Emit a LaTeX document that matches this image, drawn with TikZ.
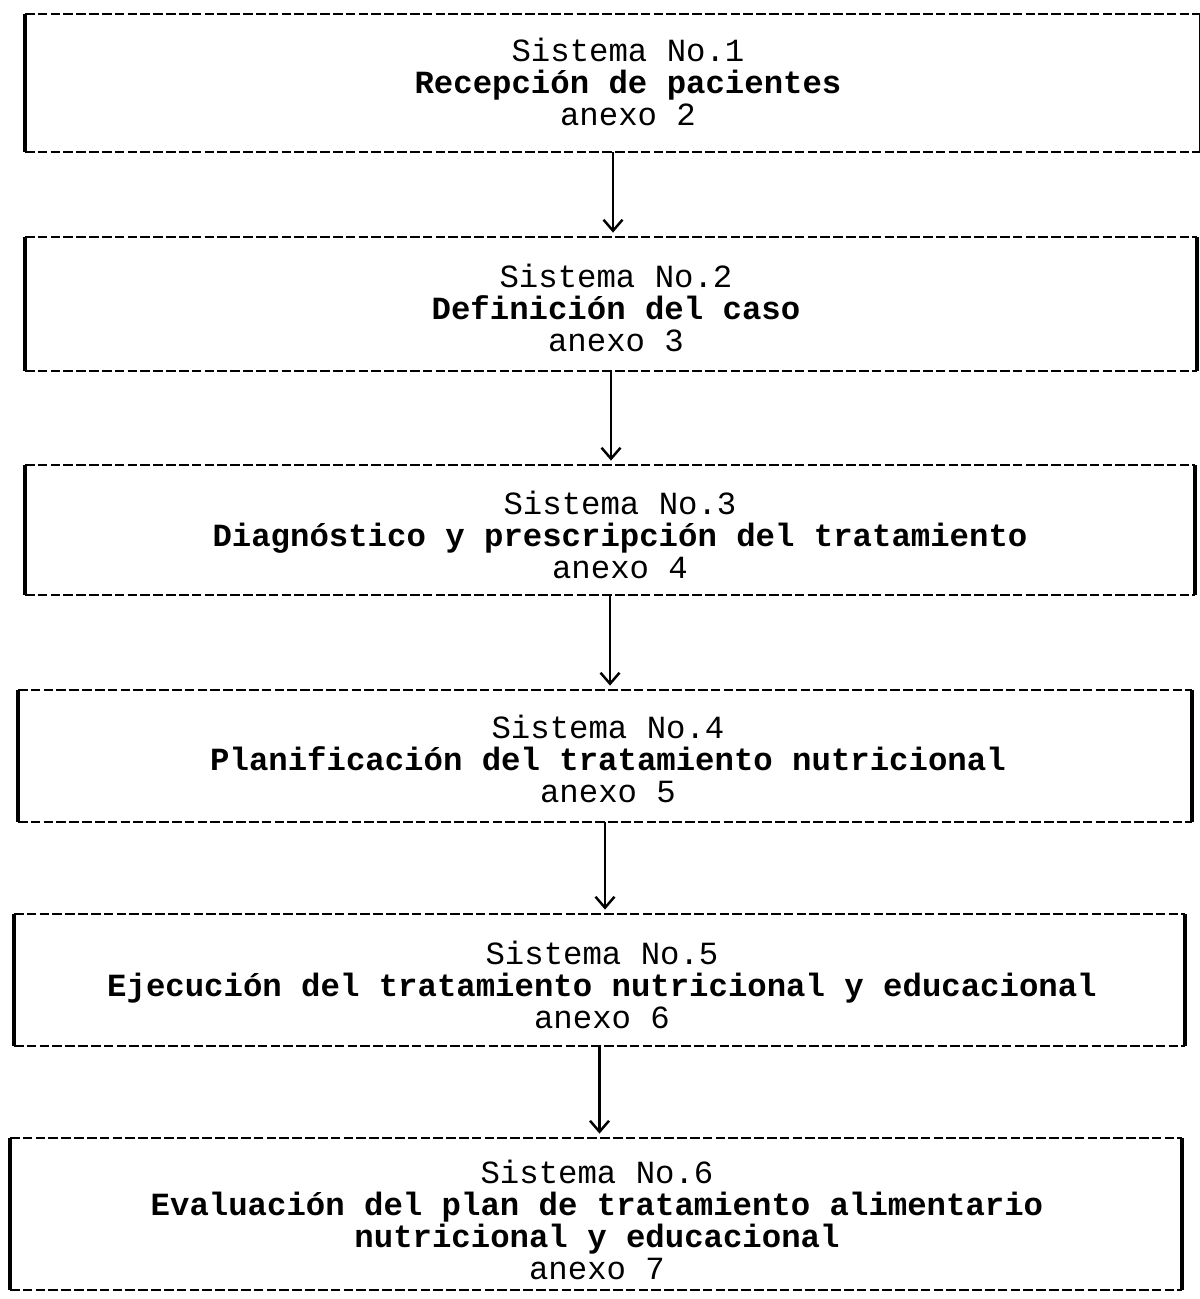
\documentclass[tikz,border=0pt]{standalone}
\usepackage{fontspec}
\setmonofont{Liberation Mono}
\usepackage{tikz}
\usetikzlibrary{arrows.meta}

\begin{document}
\begin{tikzpicture}[
  side/.style={line width=2pt},
  rim/.style={line width=0.9pt, dash pattern=on 5.5pt off 1.8pt},
  sysbox/.style={inner sep=0pt, outer sep=0pt, append after command={
    (\tikzlastnode.north west) edge[side] (\tikzlastnode.south west)
    (\tikzlastnode.north east) edge[side] (\tikzlastnode.south east)
    (\tikzlastnode.north west) edge[rim] (\tikzlastnode.north east)
    (\tikzlastnode.south west) edge[rim] (\tikzlastnode.south east)}},
  systext/.style={align=center, inner sep=0pt, font=\ttfamily\fontsize{18.4}{18.2}\selectfont},
  flow/.style={line width=1.4pt, -{Straight Barb[length=0.22cm, width=0.38cm]}, shorten >=2.5pt}
]
\useasboundingbox (0,0) rectangle (23.98,-25.98);
% system boxes
\node[sysbox, minimum width=23.52cm, minimum height=2.76cm] (S1B) at (12.26,-1.66) {};
\node[sysbox, minimum width=23.44cm, minimum height=2.68cm] (S2B) at (12.22,-6.08) {};
\node[sysbox, minimum width=23.40cm, minimum height=2.60cm] (S3B) at (12.20,-10.60) {};
\node[sysbox, minimum width=23.48cm, minimum height=2.64cm] (S4B) at (12.10,-15.12) {};
\node[sysbox, minimum width=23.42cm, minimum height=2.64cm] (S5B) at (11.99,-19.60) {};
\node[sysbox, minimum width=23.44cm, minimum height=3.04cm] (S6B) at (11.92,-24.28) {};
% texts
\node[systext] (S1T) at (12.56,-1.64) {Sistema No.1\\\textbf{Recepción de pacientes}\\anexo 2};
\node[systext] (S2T) at (12.32,-6.16) {Sistema No.2\\\textbf{Definición del caso}\\anexo 3};
\node[systext] (S3T) at (12.40,-10.70) {Sistema No.3\\\textbf{Diagnóstico y prescripción del tratamiento}\\anexo 4};
\node[systext] (S4T) at (12.16,-15.18) {Sistema No.4\\\textbf{Planificación del tratamiento nutricional}\\anexo 5};
\node[systext] (S5T) at (12.04,-19.70) {Sistema No.5\\\textbf{Ejecución del tratamiento nutricional y educacional}\\anexo 6};
\node[systext] (S6T) at (11.94,-24.40) {Sistema No.6\\\textbf{Evaluación del plan de tratamiento alimentario}\\\textbf{nutricional y educacional}\\anexo 7};
% flow
\draw[flow] (S1B.south) -- (S1B.south |- S2B.north);
\draw[flow] (S2B.south) -- (S2B.south |- S3B.north);
\draw[flow] (S3B.south) -- (S3B.south |- S4B.north);
\draw[flow] (S4B.south) -- (S4B.south |- S5B.north);
\draw[flow] (S5B.south) -- (S5B.south |- S6B.north);
\end{tikzpicture}
\end{document}
